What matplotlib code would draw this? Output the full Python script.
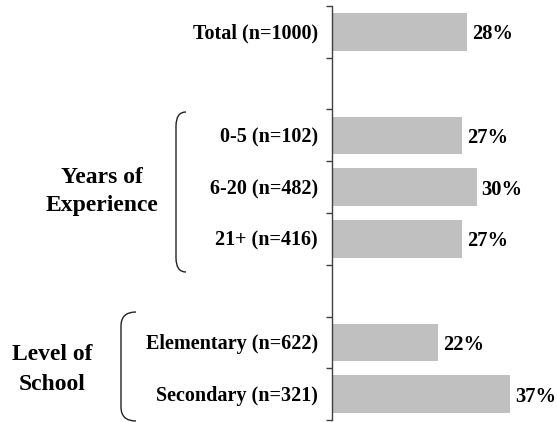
import matplotlib
matplotlib.use("Agg")
import matplotlib.pyplot as plt
from matplotlib.path import Path
from matplotlib.patches import PathPatch

categories = ["Total (n=1000)", "0-5 (n=102)", "6-20 (n=482)", "21+ (n=416)",
              "Elementary (n=622)", "Secondary (n=321)"]
slots = [0, 2, 3, 4, 6, 7]
values = [28, 27, 30, 27, 22, 37]
value_labels = ["28%", "27%", "30%", "27%", "22%", "37%"]
group1 = ["Years of", "Experience"]
group2 = ["Level of", "School"]

W, H = 557, 422
fig = plt.figure(figsize=(W / 100, H / 100), dpi=100)
ax = fig.add_axes([332 / W, 1 - 420 / H, (W - 332) / W, 414 / H])

FONT = "Liberation Serif"
ax.barh(slots, values, height=0.72, color="#C0C0C0", edgecolor="none")
ax.set_xlim(0, 225 / 4.82)
ax.set_ylim(7.5, -0.5)
ax.set_yticks([i - 0.5 for i in range(9)])
ax.set_yticklabels([])
ax.set_xticks([])
for s in ["top", "right", "bottom"]:
    ax.spines[s].set_visible(False)
ax.spines["left"].set_color("#404040")
ax.spines["left"].set_linewidth(1.0)
ax.tick_params(axis="y", direction="out", length=4.3, width=1.0, color="#404040")

pt = 72 / 100
for s, lab in zip(slots, categories):
    ax.annotate(lab, xy=(0, s), xycoords=("axes fraction", "data"),
                xytext=(-14 * pt, -7 * pt), textcoords="offset points",
                ha="right", va="baseline", fontsize=14.5, fontweight="bold",
                family=FONT)
for s, v, lab in zip(slots, values, value_labels):
    ax.annotate(lab, xy=(v, s), xytext=(5 * pt, -7.5 * pt), textcoords="offset points",
                ha="left", va="baseline", fontsize=14.8, fontweight="bold",
                family=FONT)

# group labels
for txt, yb in zip(group1, [183, 211]):
    fig.text(102 / W, 1 - yb / H, txt, ha="center", va="baseline",
             fontsize=17, fontweight="bold", family=FONT)
for txt, yb in zip(group2, [360, 390]):
    fig.text(52 / W, 1 - yb / H, txt, ha="center", va="baseline",
             fontsize=17, fontweight="bold", family=FONT)


def brace(x_line, x_end, top, bottom, r):
    verts = [(x_end, top), (x_line, top), (x_line, top + r),
             (x_line, bottom - r), (x_line, bottom), (x_end, bottom)]
    codes = [Path.MOVETO, Path.CURVE3, Path.CURVE3, Path.LINETO,
             Path.CURVE3, Path.CURVE3]
    verts = [(x / W, 1 - y / H) for x, y in verts]
    p = PathPatch(Path(verts, codes), transform=fig.transFigure,
                  facecolor="none", edgecolor="#222222", lw=1.0)
    fig.patches.append(p)


brace(176, 186, 112, 272, 14)
brace(121, 136, 312, 421, 14)

fig.savefig("out.png", dpi=100)
